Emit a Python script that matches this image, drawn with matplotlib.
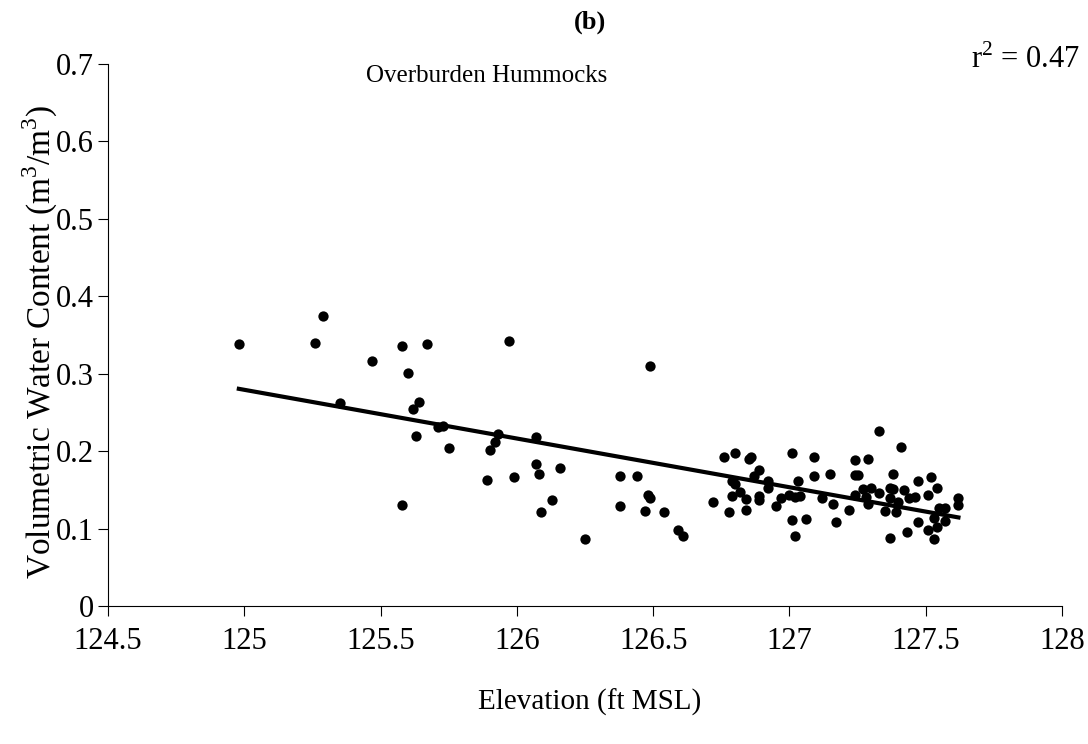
import numpy as np
import matplotlib
matplotlib.use("Agg")
import matplotlib.pyplot as plt
from matplotlib.ticker import FormatStrFormatter

# elevation (ft MSL) and volumetric water content for the overburden hummocks
elevation = [
    124.98, 125.29, 125.26, 125.35, 125.47, 125.58, 125.67, 125.60, 125.64, 125.62,
    125.63, 125.58, 125.97, 125.71, 125.73, 125.75, 125.93, 125.92, 125.90, 125.89,
    125.99, 126.07, 126.07, 126.08, 126.16, 126.13, 126.09, 126.25, 126.38, 126.38,
    126.49, 126.44, 126.48, 126.49, 126.47, 126.54, 126.59, 126.61, 126.72, 126.76,
    126.80, 126.85, 126.86, 126.89, 126.87, 126.79, 126.80, 126.79, 126.82, 126.84,
    126.89, 126.89, 126.78, 126.84, 126.92, 126.92, 126.95, 126.97, 127.01, 127.03,
    127.00, 127.02, 127.04, 127.01, 127.06, 127.02, 127.09, 127.09, 127.15, 127.12,
    127.16, 127.17, 127.22, 127.24, 127.29, 127.33, 127.41, 127.24, 127.25, 127.38,
    127.24, 127.27, 127.30, 127.28, 127.29, 127.33, 127.37, 127.38, 127.37, 127.35,
    127.39, 127.40, 127.42, 127.44, 127.46, 127.47, 127.52, 127.54, 127.51, 127.47,
    127.43, 127.37, 127.51, 127.53, 127.55, 127.57, 127.53, 127.57, 127.54, 127.62,
    127.62,
]
water_content = [
    0.338, 0.374, 0.340, 0.262, 0.316, 0.336, 0.339, 0.301, 0.263, 0.255,
    0.219, 0.131, 0.342, 0.231, 0.232, 0.204, 0.222, 0.212, 0.202, 0.163,
    0.166, 0.218, 0.183, 0.170, 0.178, 0.137, 0.121, 0.087, 0.168, 0.129,
    0.310, 0.168, 0.144, 0.140, 0.123, 0.122, 0.098, 0.090, 0.134, 0.192,
    0.197, 0.190, 0.192, 0.176, 0.168, 0.162, 0.158, 0.142, 0.147, 0.138,
    0.142, 0.137, 0.122, 0.124, 0.161, 0.153, 0.129, 0.139, 0.197, 0.161,
    0.144, 0.141, 0.142, 0.111, 0.113, 0.091, 0.192, 0.168, 0.170, 0.140,
    0.132, 0.109, 0.124, 0.188, 0.190, 0.226, 0.205, 0.169, 0.169, 0.170,
    0.144, 0.151, 0.152, 0.141, 0.132, 0.146, 0.153, 0.151, 0.140, 0.123,
    0.121, 0.134, 0.150, 0.140, 0.141, 0.161, 0.166, 0.152, 0.144, 0.109,
    0.096, 0.088, 0.098, 0.086, 0.126, 0.126, 0.114, 0.110, 0.102, 0.139,
    0.131,
]
r_squared = 0.47

x = np.array(elevation)
y = np.array(water_content)
slope, intercept = np.polyfit(x, y, 1)
x_line = np.array([x.min(), x.max()])

plt.rcParams['font.family'] = ['Liberation Serif', 'DejaVu Serif']
plt.rcParams['mathtext.fontset'] = 'custom'
plt.rcParams['mathtext.rm'] = 'Liberation Serif'

fig = plt.figure(figsize=(10.88, 7.44), dpi=100)
ax = fig.add_axes([108 / 1088, 1 - 606 / 744, (1062 - 108) / 1088, (606 - 64) / 744])

ax.scatter(x, y, s=55, color='black', zorder=3, linewidths=0)
ax.plot(x_line, slope * x_line + intercept, color='black', linewidth=3, zorder=2)

ax.set_xlim(124.5, 128)
ax.set_ylim(0, 0.7)
ax.set_xticks(np.arange(124.5, 128.01, 0.5))
ax.set_yticks(np.arange(0, 0.701, 0.1))
ax.xaxis.set_major_formatter(FormatStrFormatter('%g'))
ax.yaxis.set_major_formatter(FormatStrFormatter('%g'))
ax.tick_params(axis='both', labelsize=22, direction='out', length=7, width=0.8)
ax.tick_params(axis='x', pad=8)
ax.tick_params(axis='y', pad=3)
for side in ['top', 'right']:
    ax.spines[side].set_visible(False)
for side in ['left', 'bottom']:
    ax.spines[side].set_linewidth(0.8)

fig.text(40 / 1088, 1 - 342 / 744, 'Volumetric Water Content (m$^3$/m$^3$)',
         rotation=90, ha='center', va='center', fontsize=24)
fig.text(590 / 1088, 1 - 702 / 744, 'Elevation (ft MSL)', ha='center', va='center', fontsize=21)
fig.text(590 / 1088, 1 - 22 / 744, '(b)', ha='center', va='center', fontsize=19, fontweight='bold')
fig.text(487 / 1088, 1 - 76 / 744, 'Overburden Hummocks', ha='center', va='center', fontsize=18)
fig.text(1080 / 1088, 1 - 60 / 744, 'r$^2$ = %.2f' % r_squared, ha='right', va='center', fontsize=22)

fig.savefig('out.png', dpi=100)
